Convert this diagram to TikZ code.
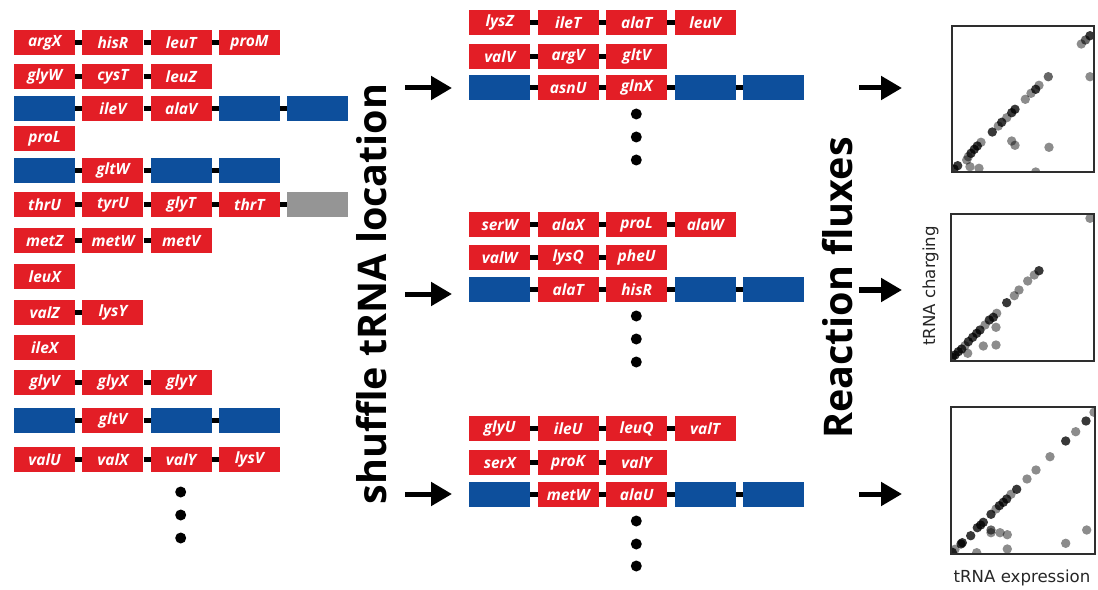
\documentclass[tikz,border=0pt]{standalone}
\usepackage{fontspec}
\setmainfont{Open Sans}
\newfontfamily\plotfont{DejaVu Sans}
\usetikzlibrary{arrows.meta}

\definecolor{tred}{HTML}{E31E26}
\definecolor{tblue}{HTML}{0D4F9C}
\definecolor{tgray}{HTML}{959595}
\definecolor{axisgray}{HTML}{2E2E2E}

\tikzset{
  gene/.style={fill=#1, minimum width=61bp, minimum height=24.7bp, inner sep=0pt,
    anchor=north west, text=white,
    font=\fontsize{15.5bp}{17bp}\selectfont\bfseries\itshape},
  link/.style={line width=4.5bp, black},
  flow/.style={line width=5bp, black, -{Triangle[length=21bp,width=23bp]}},
  moredots/.style={circle, fill=black, inner sep=0pt, minimum size=11bp},
  bigtitle/.style={rotate=90, anchor=base, font=\fontsize{39.5bp}{42bp}\selectfont\bfseries},
  axislabel/.style={font=\plotfont\fontsize{16.6bp}{18bp}\selectfont, text=black!85},
  axisframe/.style={draw=axisgray, line width=1.6bp},
}

% one chromosome row: name, left x, top y, pitch, list of colour/label
\newcommand\generow[5]{%
  \foreach \col/\lab [count=\i] in {#5}{%
    \node[gene=\col] (#1-\i) at ({#2+(\i-1)*#4}, #3) {\lab};
    \ifnum\i>1
      \pgfmathtruncatemacro\prev{\i-1}
      \draw[link] (#1-\prev.east) -- (#1-\i.west);
    \fi
  }%
}

% scatter of charging versus expression, clipped to its frame
\newcommand\scatterpanel[5]{%
  \begin{scope}
    \clip (#1,#2) rectangle (#3,#4);
    \foreach \px/\py/\op in {#5}
      \fill[black, opacity=\op] (\px,\py) circle[radius=4.7bp];
  \end{scope}
  \draw[axisframe] (#1,#2) rectangle (#3,#4);
}

\begin{document}
\begin{tikzpicture}[x=1bp, y=-1bp]
\useasboundingbox (0,0) rectangle (1098,590);

% ---------- original genome ----------
\generow{L1}{14}{30}{68.25}{tred/argX, tred/hisR, tred/leuT, tred/proM}
\generow{L2}{14}{64}{68.25}{tred/glyW, tred/cysT, tred/leuZ}
\generow{L3}{14}{96}{68.25}{tblue/{}, tred/ileV, tred/alaV, tblue/{}, tblue/{}}
\generow{L4}{14}{126}{68.25}{tred/proL}
\generow{L5}{14}{158}{68.25}{tblue/{}, tred/gltW, tblue/{}, tblue/{}}
\generow{L6}{14}{192}{68.25}{tred/thrU, tred/tyrU, tred/glyT, tred/thrT, tgray/{}}
\generow{L7}{14}{228}{68.25}{tred/metZ, tred/metW, tred/metV}
\generow{L8}{14}{264}{68.25}{tred/leuX}
\generow{L9}{14}{300}{68.25}{tred/valZ, tred/lysY}
\generow{L10}{14}{335}{68.25}{tred/ileX}
\generow{L11}{14}{370}{68.25}{tred/glyV, tred/glyX, tred/glyY}
\generow{L12}{14}{408}{68.25}{tblue/{}, tred/gltV, tblue/{}, tblue/{}}
\generow{L13}{14}{447}{68.25}{tred/valU, tred/valX, tred/valY, tred/lysV}
\node[moredots] (Ld1) at (180.7,492) {};
\node[moredots] (Ld2) at (180.7,515) {};
\node[moredots] (Ld3) at (180.7,538) {};

\node[bigtitle] (shuffle) at (386,294) {shuffle tRNA location};

% ---------- shuffled genomes ----------
\generow{A1}{469}{10}{68.5}{tred/lysZ, tred/ileT, tred/alaT, tred/leuV}
\generow{A2}{469}{44}{68.5}{tred/valV, tred/argV, tred/gltV}
\generow{A3}{469}{75}{68.5}{tblue/{}, tred/asnU, tred/glnX, tblue/{}, tblue/{}}
\node[moredots] (Ad1) at (636.3,114) {};
\node[moredots] (Ad2) at (636.3,137) {};
\node[moredots] (Ad3) at (636.3,160) {};

\generow{B1}{469}{212}{68.5}{tred/serW, tred/alaX, tred/proL, tred/alaW}
\generow{B2}{469}{245}{68.5}{tred/valW, tred/lysQ, tred/pheU}
\generow{B3}{469}{277}{68.5}{tblue/{}, tred/alaT, tred/hisR, tblue/{}, tblue/{}}
\node[moredots] (Bd1) at (636.3,316) {};
\node[moredots] (Bd2) at (636.3,339) {};
\node[moredots] (Bd3) at (636.3,362) {};

\generow{C1}{469}{416}{68.5}{tred/glyU, tred/ileU, tred/leuQ, tred/valT}
\generow{C2}{469}{450}{68.5}{tred/serX, tred/proK, tred/valY}
\generow{C3}{469}{482}{68.5}{tblue/{}, tred/metW, tred/alaU, tblue/{}, tblue/{}}
\node[moredots] (Cd1) at (636.3,521) {};
\node[moredots] (Cd2) at (636.3,544) {};
\node[moredots] (Cd3) at (636.3,566) {};

% arrows into the shuffled genomes
\coordinate (ma1) at (405,88);  \coordinate (mb1) at (452,88);
\coordinate (ma2) at (405,294); \coordinate (mb2) at (452,294);
\coordinate (ma3) at (405,494); \coordinate (mb3) at (452,494);
\draw[flow] (ma1) -- (mb1);
\draw[flow] (ma2) -- (mb2);
\draw[flow] (ma3) -- (mb3);

\node[bigtitle] (fluxes) at (852,288) {Reaction fluxes};

% arrows into the panels
\coordinate (ra1) at (859,88);  \coordinate (rb1) at (902,88);
\coordinate (ra2) at (859,290); \coordinate (rb2) at (902,290);
\coordinate (ra3) at (859,494); \coordinate (rb3) at (902,494);
\draw[flow] (ra1) -- (rb1);
\draw[flow] (ra2) -- (rb2);
\draw[flow] (ra3) -- (rb3);

% ---------- scatter panels ----------
\scatterpanel{952}{26}{1094}{172}{%
  1090/35.7/0.78, 1085.5/40/0.6, 1081.3/44/0.45, 1090/76.7/0.45, 1048.3/76.7/0.6,
  1039/85.3/0.45, 1035.7/89.3/0.78, 1031/93.3/0.45, 1025.3/99.3/0.45,
  1015/109.3/0.78, 1011.7/112.7/0.78, 1006.7/117.7/0.45, 1001.7/122.3/0.78,
  998.3/126/0.45, 992.3/132/0.78, 1011.7/141/0.45, 1015/145.3/0.45, 1049/147.3/0.45,
  981/142.3/0.45, 977.3/146/0.78, 974.3/149.3/0.78, 971/153.3/0.78, 968.3/156.7/0.45,
  966.7/160/0.45, 970/166.7/0.45, 979/168.3/0.45, 957.7/165.7/0.78, 954/169/0.78,
  1035.7/172/0.45}

\scatterpanel{951}{214}{1094}{361}{%
  1090/218.3/0.45, 1039/270.7/0.78, 1034.3/275/0.45, 1027.7/281/0.45, 1019/290/0.45,
  1014.3/295.7/0.45, 1006.7/302.7/0.78, 996.7/313.3/0.45, 993.3/317.3/0.78,
  989.3/320/0.78, 985/325/0.45, 980/330/0.78, 976.7/333.3/0.78, 972.7/337.3/0.78,
  968.3/341.7/0.78, 965/345.7/0.45, 961.7/349/0.78, 958.3/351.7/0.78, 955/355/0.78,
  952.3/357.3/0.78, 996/327.3/0.45, 983.3/346/0.45, 996/345/0.45, 967.7/353.3/0.45}

\scatterpanel{951}{407}{1095}{554}{%
  1094/412.3/0.45, 1086/421/0.78, 1075.7/431.7/0.45, 1065.7/441/0.78, 1050/456.7/0.45,
  1036/470/0.45, 1027/479/0.45, 1016.7/489.3/0.78, 1011/494.3/0.45, 1006.7/499/0.78,
  1003.3/502.3/0.78, 999.3/505.7/0.78, 996/509/0.45, 991/514.3/0.78, 983.3/522.3/0.78,
  980.7/525/0.78, 977.3/527.7/0.78, 991/530/0.6, 991/532.7/0.45, 1000/532.7/0.45,
  1007.3/534.7/0.45, 970.7/535.7/0.78, 962.3/542.7/0.78, 961/544/0.78, 955/549.3/0.45,
  952.3/552.3/0.78, 976.7/552.7/0.45, 1007.3/549/0.45, 1065.7/543.3/0.45, 1086.7/530/0.45}

\node[axislabel, rotate=90, anchor=base] (ylab) at (935,286) {tRNA charging};
\node[axislabel, anchor=base] (xlab) at (1022,582) {tRNA expression};
\end{tikzpicture}
\end{document}
